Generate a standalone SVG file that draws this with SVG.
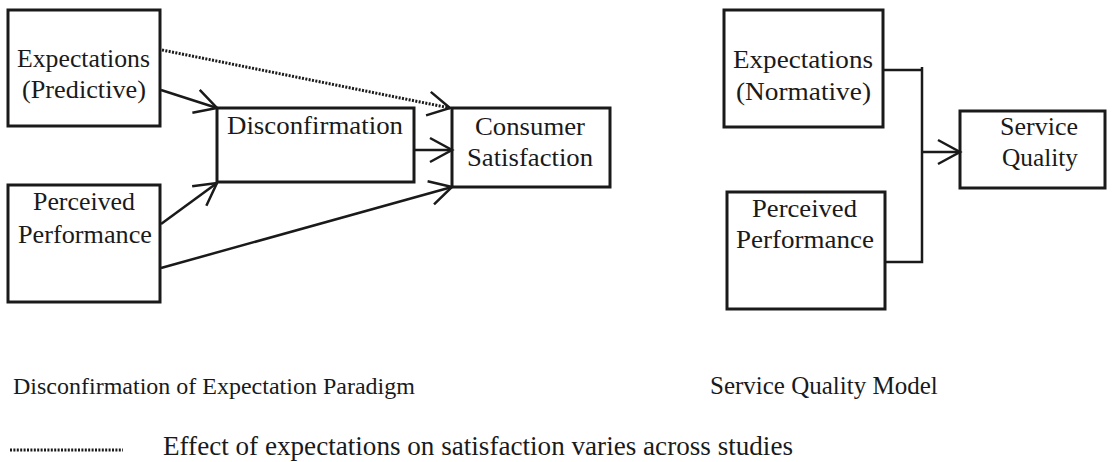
<svg xmlns="http://www.w3.org/2000/svg" width="1112" height="462" viewBox="0 0 1112 462">
  <style>
    .box { fill: #ffffff; stroke: #1a1a1a; stroke-width: 3; }
    .lbl { font-family: "Liberation Serif", "Times New Roman", serif; font-size: 26px; fill: #1a1a1a; }
    .cap { font-family: "Liberation Serif", "Times New Roman", serif; font-size: 24px; fill: #1a1a1a; }
    .edge { fill: none; stroke: #1a1a1a; stroke-width: 2.5; }
    .dotted { fill: none; stroke: #1a1a1a; stroke-width: 3; stroke-dasharray: 2 1.4; }
  </style>
  <defs>
    <marker id="open" markerUnits="userSpaceOnUse" markerWidth="30" markerHeight="30" refX="0" refY="0" viewBox="-26 -15 30 30" orient="auto" overflow="visible">
      <path d="M -22 -12 L 0 0 L -22 12" fill="none" stroke="#1a1a1a" stroke-width="2.5" stroke-dasharray="none"/>
    </marker>
  </defs>
  <rect width="1112" height="462" fill="#ffffff"/>

  <!-- Disconfirmation of expectation paradigm -->
  <g id="exp-predictive">
    <rect class="box" x="8" y="10" width="152" height="116"/>
    <text class="lbl" x="17" y="67" textLength="133" lengthAdjust="spacingAndGlyphs">Expectations</text>
    <text class="lbl" x="22" y="98" textLength="124" lengthAdjust="spacingAndGlyphs">(Predictive)</text>
  </g>
  <g id="perf-left">
    <rect class="box" x="8" y="185" width="152" height="117"/>
    <text class="lbl" x="33" y="210" textLength="102" lengthAdjust="spacingAndGlyphs">Perceived</text>
    <text class="lbl" x="18" y="243" textLength="134" lengthAdjust="spacingAndGlyphs">Performance</text>
  </g>
  <g id="disconfirmation">
    <rect class="box" x="217" y="108" width="197" height="74"/>
    <text class="lbl" x="227" y="134" textLength="176" lengthAdjust="spacingAndGlyphs">Disconfirmation</text>
  </g>
  <g id="satisfaction">
    <rect class="box" x="452" y="108" width="158" height="79"/>
    <text class="lbl" x="475" y="135" textLength="110" lengthAdjust="spacingAndGlyphs">Consumer</text>
    <text class="lbl" x="467" y="166" textLength="126" lengthAdjust="spacingAndGlyphs">Satisfaction</text>
  </g>

  <!-- Service quality model -->
  <g id="exp-normative">
    <rect class="box" x="724" y="10" width="159" height="117"/>
    <text class="lbl" x="733" y="68" textLength="140" lengthAdjust="spacingAndGlyphs">Expectations</text>
    <text class="lbl" x="736" y="100" textLength="135" lengthAdjust="spacingAndGlyphs">(Normative)</text>
  </g>
  <g id="perf-right">
    <rect class="box" x="727" y="192" width="158" height="117"/>
    <text class="lbl" x="752" y="217" textLength="105" lengthAdjust="spacingAndGlyphs">Perceived</text>
    <text class="lbl" x="736" y="248" textLength="138" lengthAdjust="spacingAndGlyphs">Performance</text>
  </g>
  <g id="service-quality">
    <rect class="box" x="960" y="111" width="145" height="77"/>
    <text class="lbl" x="1000" y="135" textLength="78" lengthAdjust="spacingAndGlyphs">Service</text>
    <text class="lbl" x="1002" y="166" textLength="76" lengthAdjust="spacingAndGlyphs">Quality</text>
  </g>

  <g id="connectors">
    <line class="edge" x1="161" y1="90" x2="217" y2="108" marker-end="url(#open)"/>
    <line class="edge" x1="161" y1="224" x2="217" y2="183" marker-end="url(#open)"/>
    <line class="edge" x1="414" y1="150" x2="452" y2="150" marker-end="url(#open)"/>
    <line class="edge" x1="161" y1="268" x2="452" y2="187" marker-end="url(#open)"/>
    <line class="dotted" x1="162" y1="50" x2="450" y2="108" marker-end="url(#open)"/>
    <polyline class="edge" points="883,70 922,70"/>
    <polyline class="edge" points="922,67 922,262 885,262"/>
    <line class="edge" x1="922" y1="152" x2="960" y2="152" marker-end="url(#open)"/>
  </g>

  <g id="captions">
    <text class="cap" x="13" y="394">Disconfirmation of Expectation Paradigm</text>
    <text class="cap" x="710" y="394" style="font-size:25px">Service Quality Model</text>
    <line class="dotted" x1="10" y1="450" x2="123" y2="450"/>
    <text class="cap" x="163" y="455" style="font-size:27px" textLength="630" lengthAdjust="spacingAndGlyphs">Effect of expectations on satisfaction varies across studies</text>
  </g>
</svg>
